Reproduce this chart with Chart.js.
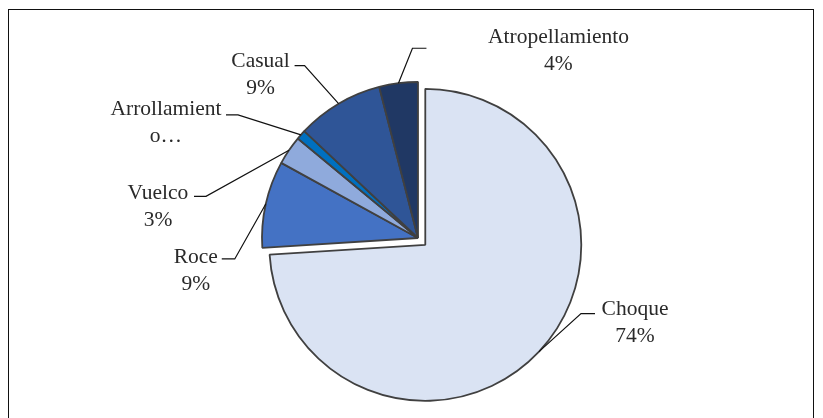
<!DOCTYPE html>
<html><head><meta charset="utf-8">
<script src="https://cdn.jsdelivr.net/npm/chart.js@4.4.0/dist/chart.umd.min.js"></script>
<style>
html,body{margin:0;padding:0;background:#fff;overflow:hidden}
#wrap{position:relative;width:823px;height:418px}
#frame{position:absolute;left:8px;top:9px;width:806px;height:430px;border:1.5px solid #111;box-sizing:border-box}
canvas{position:absolute;left:0;top:0}
</style></head><body>
<div id="wrap"><div id="frame"></div><canvas id="c" width="823" height="418"></canvas></div>
<script>
// ---- data ----
const categories = ['Choque', 'Roce', 'Vuelco', 'Arrollamiento', 'Casual', 'Atropellamiento'];
const values = [74, 9, 3, 1, 9, 4];
const sliceColors = ['#DAE3F3', '#4472C4', '#8FAADC', '#0070C0', '#2F5597', '#203864'];
// label text as shown (Arrollamiento is truncated/wrapped in the original)
const labelText = [null, null, null, ['Arrollamient', 'o…'], null, null];
// pulled-out distance of each slice (px)
const explode = [10, 0, 0, 0, 0, 0];

// ---- label layout (elbow relative to arc point, tail length, text centre relative to elbow end) ----
const labelLayout = [
  {ex: 42, ey: -38, tail: 14, tx: 40, ty: -4},     // Choque
  {ex: -31, ey: 55, tail: -13, tx: -26, ty: -2},   // Roce
  {ex: -83, ey: 46, tail: -12, tx: -36, ty: -3},   // Vuelco
  {ex: -63, ey: -20, tail: -12, tx: -60, ty: -5},  // Arrollamiento
  {ex: -34, ey: -38, tail: -10, tx: -34, ty: -4},  // Casual
  {ex: 14, ey: -35, tail: 14, tx: 132, ty: -11}    // Atropellamiento
];

const total = values.reduce((a, b) => a + b, 0);

const explodePlugin = {
  id: 'explode',
  beforeDatasetsDraw(chart) {
    chart.getDatasetMeta(0).data.forEach((el, i) => {
      const d = explode[i] || 0;
      if (!d || el._exploded) return;
      const orig = el.draw;
      el.draw = function (ctx) {
        const mid = (this.startAngle + this.endAngle) / 2;
        ctx.save();
        ctx.translate(Math.cos(mid) * d, Math.sin(mid) * d);
        orig.call(this, ctx);
        ctx.restore();
      };
      el._exploded = true;
    });
  }
};

const leaderPlugin = {
  id: 'leaders',
  afterDatasetsDraw(chart) {
    const ctx = chart.ctx;
    const meta = chart.getDatasetMeta(0);
    ctx.save();
    ctx.font = '21.5px "Liberation Serif", "Times New Roman", serif';
    ctx.fillStyle = '#2a2a2a';
    ctx.strokeStyle = '#111';
    ctx.lineWidth = 1.2;
    ctx.textAlign = 'center';
    ctx.textBaseline = 'middle';
    meta.data.forEach((el, i) => {
      const p = el.getProps(['x', 'y', 'startAngle', 'endAngle', 'outerRadius']);
      const shift = explode[i] || 0;
      const mid = (p.startAngle + p.endAngle) / 2;
      const ax = p.x + Math.cos(mid) * (p.outerRadius + shift);
      const ay = p.y + Math.sin(mid) * (p.outerRadius + shift);
      const L = labelLayout[i];
      const bx = ax + L.ex, by = ay + L.ey;
      const cx = bx + L.tail;
      ctx.beginPath();
      ctx.moveTo(ax, ay);
      ctx.lineTo(bx, by);
      ctx.lineTo(cx, by);
      ctx.stroke();
      const lines = labelText[i] || [categories[i], Math.round(values[i] / total * 100) + '%'];
      const tx = cx + L.tx, ty = by + L.ty;
      lines.forEach((t, k) => ctx.fillText(t, tx, ty + k * 27));
    });
    ctx.restore();
  }
};

new Chart(document.getElementById('c'), {
  type: 'pie',
  data: {
    labels: categories,
    datasets: [{
      data: values,
      backgroundColor: sliceColors,
      borderColor: '#404040',
      borderWidth: 1.8
    }]
  },
  options: {
    responsive: false,
    animation: false,
    events: [],
    radius: 156,
    layout: {padding: {left: 13, right: 0, top: 58, bottom: 0}},
    plugins: {legend: {display: false}, tooltip: {enabled: false}}
  },
  plugins: [explodePlugin, leaderPlugin]
});
</script>
</body></html>
